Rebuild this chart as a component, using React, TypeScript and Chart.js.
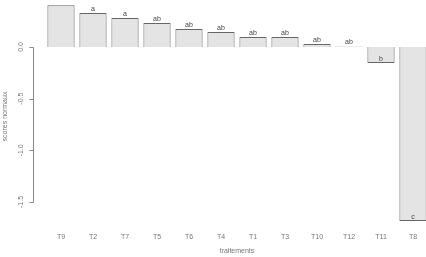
import React, { useEffect, useRef } from "react";
import { Chart, registerables } from "chart.js";

Chart.register(...registerables);

const categories = ["T9", "T2", "T7", "T5", "T6", "T4", "T1", "T3", "T10", "T12", "T11", "T8"];
const scores = [0.405, 0.329, 0.281, 0.232, 0.174, 0.145, 0.098, 0.096, 0.029, 0.005, -0.155, -1.684];
const groupLetters = ["a", "a", "a", "ab", "ab", "ab", "ab", "ab", "ab", "ab", "b", "c"];
const yTickValues = [0, -0.5, -1.0, -1.5];
const yTickLabels = ["0.0", "-0.5", "-1.0", "-1.5"];

const FONT = "'Liberation Sans', Arial, sans-serif";

const rAxisPlugin = {
  id: "rAxis",
  afterDatasetsDraw(chart: any) {
    const { ctx, chartArea } = chart;
    const yScale = chart.scales.y;
    // letters above value points, clipped to plot region
    const meta = chart.getDatasetMeta(0);
    ctx.save();
    ctx.beginPath();
    ctx.rect(chartArea.left, chartArea.top, chartArea.right - chartArea.left, chartArea.bottom - chartArea.top);
    ctx.clip();
    ctx.fillStyle = "#444";
    ctx.font = `7px ${FONT}`;
    ctx.textAlign = "center";
    ctx.textBaseline = "alphabetic";
    meta.data.forEach((bar: any, i: number) => {
      const py = yScale.getPixelForValue(scores[i]);
      ctx.fillText(groupLetters[i], bar.x, py - 2);
    });
    ctx.restore();

    // R-style left axis
    ctx.save();
    const x0 = Math.round(chartArea.left - 12) + 0.5;
    ctx.strokeStyle = "#888";
    ctx.lineWidth = 1;
    const yTop = yScale.getPixelForValue(yTickValues[0]);
    const yBot = yScale.getPixelForValue(yTickValues[yTickValues.length - 1]);
    ctx.beginPath();
    ctx.moveTo(x0, Math.round(yTop) + 0.5);
    ctx.lineTo(x0, Math.round(yBot) + 0.5);
    yTickValues.forEach((v) => {
      const py = Math.round(yScale.getPixelForValue(v)) + 0.5;
      ctx.moveTo(x0, py);
      ctx.lineTo(x0 - 4, py);
    });
    ctx.stroke();
    ctx.fillStyle = "#777";
    ctx.font = `7px ${FONT}`;
    ctx.textAlign = "center";
    ctx.textBaseline = "middle";
    yTickValues.forEach((v, i) => {
      const py = yScale.getPixelForValue(v);
      ctx.save();
      ctx.translate(x0 - 12.5, py);
      ctx.rotate(-Math.PI / 2);
      ctx.fillText(yTickLabels[i], 0, 0);
      ctx.restore();
    });
    ctx.restore();
  },
};

export default function App() {
  const canvasRef = useRef<HTMLCanvasElement | null>(null);

  useEffect(() => {
    if (!canvasRef.current) return;
    const chart = new Chart(canvasRef.current, {
      type: "bar",
      data: {
        labels: categories,
        datasets: [
          {
            data: scores,
            backgroundColor: "#e4e4e4",
            borderColor: "#666",
            borderWidth: 1,
            borderSkipped: "start",
            barPercentage: 0.85,
            categoryPercentage: 1,
          },
        ],
      },
      options: {
        animation: false,
        responsive: false,
        devicePixelRatio: 1,
        layout: { padding: { top: 5, right: 11, left: 0, bottom: 0 } },
        plugins: { legend: { display: false }, tooltip: { enabled: false } },
        scales: {
          x: {
            grid: { display: false, drawTicks: false },
            border: { display: false },
            ticks: { color: "#777", font: { family: FONT, size: 7 }, padding: 5, maxRotation: 0, autoSkip: false },
            title: {
              display: true,
              text: "traitements",
              color: "#777",
              font: { family: FONT, size: 7 },
              padding: { top: 0, bottom: 1.5 },
            },
            afterFit: (s: any) => {
              s.height = 29;
            },
          },
          y: {
            min: -1.7516,
            max: 0.4065,
            grid: { display: false, drawTicks: false },
            border: { display: false },
            ticks: { display: false },
            title: {
              display: true,
              text: "scores normaux",
              color: "#777",
              font: { family: FONT, size: 7 },
              padding: { top: 1, bottom: 0 },
            },
            afterFit: (s: any) => {
              s.width = 45;
            },
          },
        },
      },
      plugins: [rAxisPlugin],
    });
    return () => chart.destroy();
  }, []);

  return (
    <div style={{ position: "fixed", left: 0, top: 0, width: 426, height: 257, overflow: "hidden", background: "#fff" }}>
      <canvas ref={canvasRef} width={440} height={257} style={{ width: 440, height: 257, display: "block" }} />
    </div>
  );
}
